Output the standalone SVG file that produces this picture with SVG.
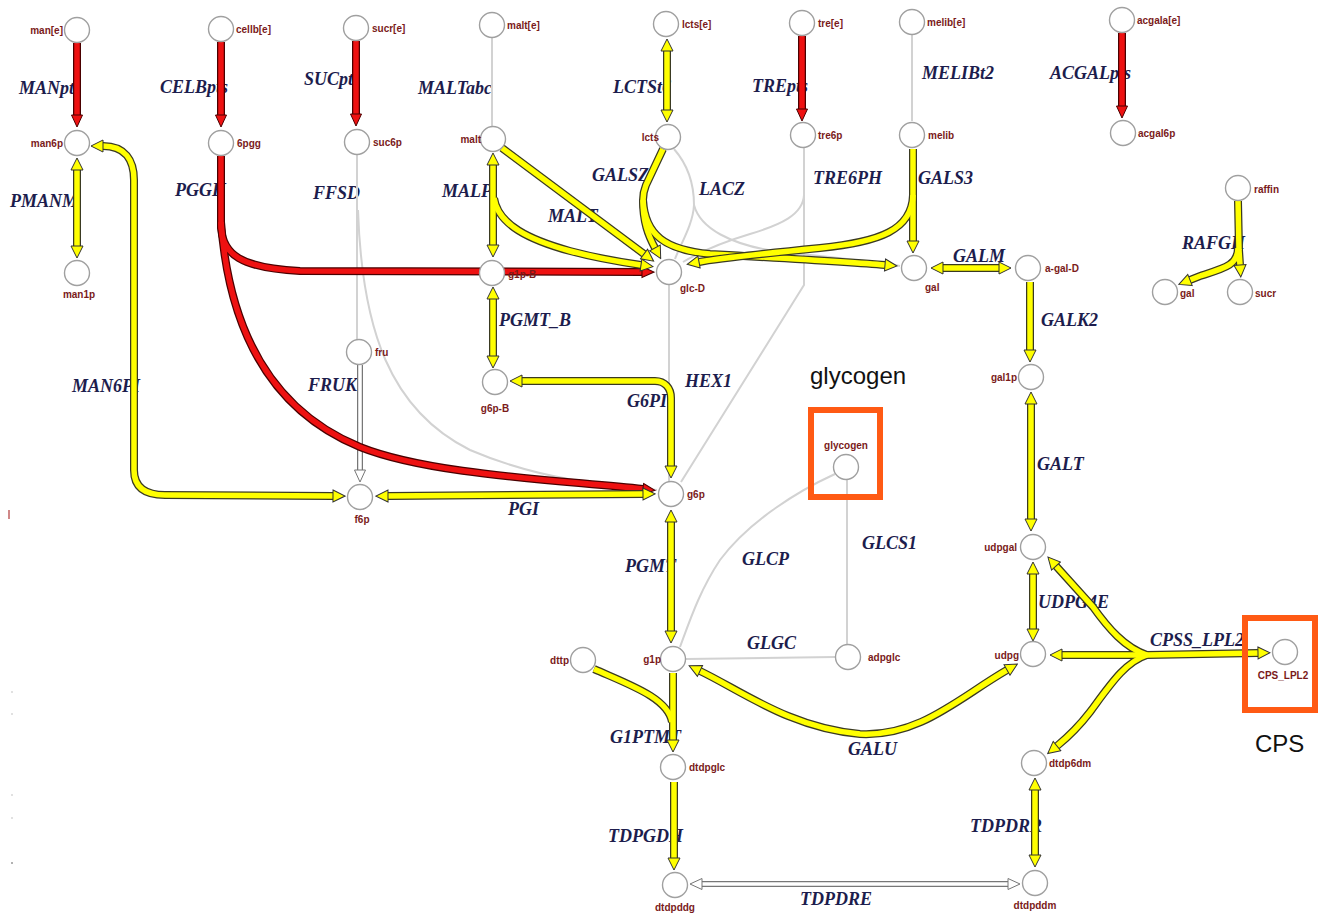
<svg xmlns="http://www.w3.org/2000/svg" width="1319" height="915" viewBox="0 0 1319 915">
<style>
.rl{font-family:"Liberation Serif","Times New Roman",serif;font-weight:bold;font-style:italic;font-size:18px;fill:#1d1d4d}
.nl{font-family:"Liberation Sans",Arial,sans-serif;font-weight:bold;font-size:10px;fill:#7a1a1a}
.nd{fill:#fff;stroke:#a0a0a0;stroke-width:1.4}
.big{font-family:"Liberation Sans",Arial,sans-serif;font-size:24px;fill:#111}
.box{fill:none;stroke:#ff5a14;stroke-width:6}
.g{fill:none;stroke:#d2d2d2;stroke-width:2}
.y .o{fill:none;stroke:#3a3a22;stroke-width:8}
.y .i{fill:none;stroke:#ffff00;stroke-width:5.5}
.r .o{fill:none;stroke:#4a0000;stroke-width:8}
.r .i{fill:none;stroke:#ee1111;stroke-width:5.5}
.h .o{fill:none;stroke:#777;stroke-width:6}
.h .i{fill:none;stroke:#fff;stroke-width:3.5}
.y .e{marker-end:url(#ay)}
.y .b{marker-start:url(#ay);marker-end:url(#ay)}
.r .e{marker-end:url(#ar)}
.h .e{marker-end:url(#ah)}
.h .b{marker-start:url(#ah);marker-end:url(#ah)}
</style>
<defs>
<marker id="ay" viewBox="-1 -1 14 14" refX="0" refY="6" markerWidth="14" markerHeight="14" markerUnits="userSpaceOnUse" orient="auto-start-reverse"><path d="M0,0 L12,6 L0,12 Z" fill="#ffff00" stroke="#333" stroke-width="1"/></marker>
<marker id="ar" viewBox="-1 -1 14 14" refX="0" refY="6" markerWidth="14" markerHeight="14" markerUnits="userSpaceOnUse" orient="auto-start-reverse"><path d="M0,0.5 L12,6 L0,11.5 Z" fill="#ee1111" stroke="#4a0000" stroke-width="1"/></marker>
<marker id="ah" viewBox="-1 -1 14 14" refX="0" refY="6" markerWidth="14" markerHeight="14" markerUnits="userSpaceOnUse" orient="auto-start-reverse"><path d="M0,0.5 L12,6 L0,11.5 Z" fill="#fff" stroke="#777" stroke-width="1"/></marker>
</defs>
<rect width="1319" height="915" fill="#fff"/>

<g id="reaction-labels">
<text class="rl" x="19" y="94">MANpts</text>
<text class="rl" x="160" y="93">CELBpts</text>
<text class="rl" x="304" y="85">SUCpts</text>
<text class="rl" x="10" y="207">PMANM</text>
<text class="rl" x="175" y="196">PGGH</text>
<text class="rl" x="313" y="199">FFSD</text>
<text class="rl" x="418" y="94">MALTabc</text>
<text class="rl" x="613" y="93">LCTSt6</text>
<text class="rl" x="752" y="92">TREpts</text>
<text class="rl" x="442" y="197">MALP</text>
<text class="rl" x="548" y="222">MALT</text>
<text class="rl" x="592" y="181">GALSZ</text>
<text class="rl" x="699" y="195">LACZ</text>
<text class="rl" x="813" y="184">TRE6PH</text>
<text class="rl" x="922" y="79">MELIBt2</text>
<text class="rl" x="1050" y="79">ACGALpts</text>
<text class="rl" x="918" y="184">GALS3</text>
<text class="rl" x="953" y="262">GALM</text>
<text class="rl" x="1182" y="249">RAFGH</text>
<text class="rl" x="72" y="392">MAN6PI</text>
<text class="rl" x="308" y="391">FRUK</text>
<text class="rl" x="499" y="326">PGMT_B</text>
<text class="rl" x="685" y="387">HEX1</text>
<text class="rl" x="627" y="407">G6PI</text>
<text class="rl" x="508" y="515">PGI</text>
<text class="rl" x="625" y="572">PGMT</text>
<text class="rl" x="742" y="565">GLCP</text>
<text class="rl" x="862" y="549">GLCS1</text>
<text class="rl" x="1041" y="326">GALK2</text>
<text class="rl" x="1037" y="470">GALT</text>
<text class="rl" x="1038" y="608">UDPG4E</text>
<text class="rl" x="747" y="649">GLGC</text>
<text class="rl" x="610" y="743">G1PTMT</text>
<text class="rl" x="848" y="755">GALU</text>
<text class="rl" x="608" y="842">TDPGDH</text>
<text class="rl" x="800" y="905">TDPDRE</text>
<text class="rl" x="1150" y="646">CPSS_LPL2</text>
<text class="rl" x="970" y="832">TDPDRR</text>
</g>

<g id="connectors">
<!-- gray thin reactions -->
<g id="c-MALTabc"><path class="g" d="M492,38 V126"/></g>
<g id="c-MELIBt2"><path class="g" d="M912,35 V121"/></g>
<g id="c-FFSD"><path class="g" d="M357,155 V339"/><path class="g" d="M358,210 C362,330 390,410 470,450 C540,480 610,486 657,490"/></g>
<g id="c-LACZ"><path class="g" d="M674,149 C688,165 694,185 694,205 C693,225 680,245 675,259"/><path class="g" d="M694,205 C700,228 730,245 780,252 C840,258 880,262 900,266"/></g>
<g id="c-TRE6PH"><path class="g" d="M804,148 V285 L681,482"/><path class="g" d="M804,195 C803,215 780,225 750,234 C720,243 700,252 683,262"/></g>
<g id="c-HEX1"><path class="g" d="M669,285 V481"/></g>
<g id="c-GLCP"><path class="g" d="M835,474 C800,490 750,520 720,560 C700,590 690,620 680,647"/></g>
<g id="c-GLCS1"><path class="g" d="M847,480 V644"/></g>
<g id="c-GLGC"><path class="g" d="M686,659 L835,657"/></g>

<!-- hollow gray -->
<g id="c-FRUK" class="h"><path class="o" d="M360,365 V470"/><path class="i e" d="M360,365 V470"/></g>
<g id="c-TDPDRE" class="h"><path class="o" d="M702,884 L1008,884"/><path class="i b" d="M702,884 L1008,884"/></g>

<!-- red PTS -->
<g id="c-MANpts" class="r"><path class="o" d="M77,43 V115"/><path class="i e" d="M77,43 V115"/></g>
<g id="c-CELBpts" class="r"><path class="o" d="M221,42 V115"/><path class="i e" d="M221,42 V115"/></g>
<g id="c-SUCpts" class="r"><path class="o" d="M356,41 V114"/><path class="i e" d="M356,41 V114"/></g>
<g id="c-TREpts" class="r"><path class="o" d="M802,36 V109"/><path class="i e" d="M802,36 V109"/></g>
<g id="c-ACGALpts" class="r"><path class="o" d="M1122,33 V106"/><path class="i e" d="M1122,33 V106"/></g>
<g id="c-PGGH" class="r">
<path class="o" d="M221,156 L221,228 C223,254 240,268 300,271 L642,272"/>
<path class="o" d="M221,222 C229,330 270,410 360,447 C430,475 560,480 643,489"/>
<path class="i e" d="M221,156 L221,228 C223,254 240,268 300,271 L642,272"/>
<path class="i e" d="M221,222 C229,330 270,410 360,447 C430,475 560,480 643,489"/>
</g>

<!-- yellow -->
<g id="c-PMANM" class="y"><path class="o" d="M77,170 V246"/><path class="i b" d="M77,170 V246"/></g>
<g id="c-MAN6PI" class="y"><path class="o" d="M103,146 C125,146 134,160 134,180 L134,470 C134,488 146,495 165,495 L333,496"/><path class="i b" d="M103,146 C125,146 134,160 134,180 L134,470 C134,488 146,495 165,495 L333,496"/></g>
<g id="c-MALP" class="y">
<path class="o" d="M493,165 V245"/><path class="o" d="M494,198 C498,225 530,240 570,251 C600,259 620,262 641,265"/>
<path class="i b" d="M493,165 V245"/><path class="i e" d="M494,198 C498,225 530,240 570,251 C600,259 620,262 641,265"/>
</g>
<g id="c-MALT" class="y"><path class="o" d="M502,148 L644,254"/><path class="i e" d="M502,148 L644,254"/></g>
<g id="c-LCTSt6" class="y"><path class="o" d="M667,51 V110"/><path class="i b" d="M667,51 V110"/></g>
<g id="c-GALSZ" class="y">
<path class="o" d="M663,149 L646,185 C644,190 643,195 643,200 C643,222 648,235 655,248"/>
<path class="o" d="M643,200 C645,235 665,250 710,254 C780,258 850,262 885,265"/>
<path class="i e" d="M663,149 L646,185 C644,190 643,195 643,200 C643,222 648,235 655,248"/>
<path class="i e" d="M643,200 C645,235 665,250 710,254 C780,258 850,262 885,265"/>
</g>
<g id="c-GALS3" class="y">
<path class="o" d="M913,149 V241"/>
<path class="o" d="M913,195 C912,230 880,242 820,248 C760,254 720,258 699,262"/>
<path class="i e" d="M913,149 V241"/>
<path class="i e" d="M913,195 C912,230 880,242 820,248 C760,254 720,258 699,262"/>
</g>
<g id="c-GALM" class="y"><path class="o" d="M943,268 L999,268"/><path class="i b" d="M943,268 L999,268"/></g>
<g id="c-GALK2" class="y"><path class="o" d="M1030,282 V350"/><path class="i e" d="M1030,282 V350"/></g>
<g id="c-GALT" class="y"><path class="o" d="M1031,404 V519"/><path class="i b" d="M1031,404 V519"/></g>
<g id="c-UDPG4E" class="y"><path class="o" d="M1033,574 V629"/><path class="i b" d="M1033,574 V629"/></g>
<g id="c-CPSS_LPL2" class="y">
<path class="o" d="M1147,655 L1062,655"/>
<path class="o" d="M1147,655 L1258,653"/>
<path class="o" d="M1147,655 C1125,648 1108,628 1093,607 L1056,566"/>
<path class="o" d="M1147,655 C1125,662 1110,685 1090,712 C1080,725 1068,737 1057,746"/>
<path class="i e" d="M1147,655 L1062,655"/>
<path class="i e" d="M1147,655 L1258,653"/>
<path class="i e" d="M1147,655 C1125,648 1108,628 1093,607 L1056,566"/>
<path class="i e" d="M1147,655 C1125,662 1110,685 1090,712 C1080,725 1068,737 1057,746"/>
</g>
<g id="c-PGMT_B" class="y"><path class="o" d="M493,299 V356"/><path class="i b" d="M493,299 V356"/></g>
<g id="c-G6PI" class="y"><path class="o" d="M522,381 L655,381 C665,381 671,388 671,398 L671,466"/><path class="i b" d="M522,381 L655,381 C665,381 671,388 671,398 L671,466"/></g>
<g id="c-PGI" class="y"><path class="o" d="M388,496 L643,494"/><path class="i b" d="M388,496 L643,494"/></g>
<g id="c-PGMT" class="y"><path class="o" d="M671,522 V631"/><path class="i b" d="M671,522 V631"/></g>
<g id="c-GALU" class="y"><path class="o" d="M700,671 C740,690 790,728 860,734 C920,737 960,697 1007,670"/><path class="i b" d="M700,671 C740,690 790,728 860,734 C920,737 960,697 1007,670"/></g>
<g id="c-G1PTMT" class="y">
<path class="o" d="M673,673 V740"/><path class="o" d="M594,669 C630,685 668,698 672,722"/>
<path class="i e" d="M673,673 V740"/><path class="i" d="M594,669 C630,685 668,698 672,722"/>
</g>
<g id="c-TDPGDH" class="y"><path class="o" d="M674,782 V858"/><path class="i e" d="M674,782 V858"/></g>
<g id="c-TDPDRR" class="y"><path class="o" d="M1035,790 V855"/><path class="i b" d="M1035,790 V855"/></g>
<g id="c-RAFGH" class="y">
<path class="o" d="M1238,201 L1239,250 L1240,265"/>
<path class="o" d="M1238,248 C1238,265 1225,268 1200,276 L1190,280"/>
<path class="i e" d="M1238,201 L1239,250 L1240,265"/>
<path class="i e" d="M1238,248 C1238,265 1225,268 1200,276 L1190,280"/>
</g>
</g>

<g id="nodes">
<g id="n-man_e"><circle class="nd" cx="77" cy="30" r="12.5"/><text class="nl" x="63" y="34" text-anchor="end">man[e]</text></g>
<g id="n-man6p"><circle class="nd" cx="77" cy="143" r="12.5"/><text class="nl" x="63" y="147" text-anchor="end">man6p</text></g>
<g id="n-man1p"><circle class="nd" cx="77" cy="273" r="12.5"/><text class="nl" x="79" y="298" text-anchor="middle">man1p</text></g>
<g id="n-cellb_e"><circle class="nd" cx="221" cy="29" r="12.5"/><text class="nl" x="236" y="33">cellb[e]</text></g>
<g id="n-6pgg"><circle class="nd" cx="221" cy="143" r="12.5"/><text class="nl" x="237" y="147">6pgg</text></g>
<g id="n-sucr_e"><circle class="nd" cx="356" cy="28" r="12.5"/><text class="nl" x="372" y="32">sucr[e]</text></g>
<g id="n-suc6p"><circle class="nd" cx="357" cy="142" r="12.5"/><text class="nl" x="373" y="146">suc6p</text></g>
<g id="n-malt_e"><circle class="nd" cx="492" cy="25" r="12.5"/><text class="nl" x="507" y="29">malt[e]</text></g>
<g id="n-malt"><circle class="nd" cx="493" cy="139" r="12.5"/><text class="nl" x="481" y="143" text-anchor="end">malt</text></g>
<g id="n-lcts_e"><circle class="nd" cx="666" cy="24" r="12.5"/><text class="nl" x="682" y="28">lcts[e]</text></g>
<g id="n-lcts"><circle class="nd" cx="668" cy="137" r="12.5"/><text class="nl" x="659" y="141" text-anchor="end">lcts</text></g>
<g id="n-tre_e"><circle class="nd" cx="802" cy="23" r="12.5"/><text class="nl" x="818" y="27">tre[e]</text></g>
<g id="n-tre6p"><circle class="nd" cx="803" cy="135" r="12.5"/><text class="nl" x="818" y="139">tre6p</text></g>
<g id="n-melib_e"><circle class="nd" cx="912" cy="22" r="12.5"/><text class="nl" x="927" y="26">melib[e]</text></g>
<g id="n-melib"><circle class="nd" cx="912" cy="135" r="12.5"/><text class="nl" x="928" y="139">melib</text></g>
<g id="n-acgala_e"><circle class="nd" cx="1122" cy="20" r="12.5"/><text class="nl" x="1137" y="24">acgala[e]</text></g>
<g id="n-acgal6p"><circle class="nd" cx="1123" cy="133" r="12.5"/><text class="nl" x="1138" y="137">acgal6p</text></g>
<g id="n-raffin"><circle class="nd" cx="1238" cy="188" r="12.5"/><text class="nl" x="1254" y="193">raffin</text></g>
<g id="n-gal_2"><circle class="nd" cx="1165" cy="292" r="12.5"/><text class="nl" x="1180" y="297">gal</text></g>
<g id="n-sucr"><circle class="nd" cx="1240" cy="292" r="12.5"/><text class="nl" x="1255" y="297">sucr</text></g>
<g id="n-g1p_B"><circle class="nd" cx="492" cy="273" r="12.5"/><text class="nl" x="508" y="278">g1p-B</text></g>
<g id="n-glc_D"><circle class="nd" cx="669" cy="272" r="12.5"/><text class="nl" x="680" y="292">glc-D</text></g>
<g id="n-gal"><circle class="nd" cx="914" cy="268" r="12.5"/><text class="nl" x="925" y="291">gal</text></g>
<g id="n-a_gal_D"><circle class="nd" cx="1028" cy="268" r="12.5"/><text class="nl" x="1045" y="272">a-gal-D</text></g>
<g id="n-fru"><circle class="nd" cx="359" cy="352" r="12.5"/><text class="nl" x="375" y="356">fru</text></g>
<g id="n-g6p_B"><circle class="nd" cx="495" cy="382" r="12.5"/><text class="nl" x="495" y="412" text-anchor="middle">g6p-B</text></g>
<g id="n-f6p"><circle class="nd" cx="360" cy="497" r="12.5"/><text class="nl" x="362" y="523" text-anchor="middle">f6p</text></g>
<g id="n-g6p"><circle class="nd" cx="671" cy="494" r="12.5"/><text class="nl" x="687" y="498">g6p</text></g>
<g id="n-glycogen"><circle class="nd" cx="846" cy="467" r="12.5"/><text class="nl" x="846" y="449" text-anchor="middle">glycogen</text></g>
<g id="n-gal1p"><circle class="nd" cx="1031" cy="377" r="12.5"/><text class="nl" x="1017" y="381" text-anchor="end">gal1p</text></g>
<g id="n-udpgal"><circle class="nd" cx="1033" cy="547" r="12.5"/><text class="nl" x="1017" y="551" text-anchor="end">udpgal</text></g>
<g id="n-udpg"><circle class="nd" cx="1033" cy="654" r="12.5"/><text class="nl" x="1019" y="659" text-anchor="end">udpg</text></g>
<g id="n-CPS_LPL2"><circle class="nd" cx="1285" cy="652" r="12.5"/><text class="nl" x="1283" y="679" text-anchor="middle">CPS_LPL2</text></g>
<g id="n-dttp"><circle class="nd" cx="583" cy="660" r="12.5"/><text class="nl" x="569" y="664" text-anchor="end">dttp</text></g>
<g id="n-g1p"><circle class="nd" cx="673" cy="659" r="12.5"/><text class="nl" x="661" y="663" text-anchor="end">g1p</text></g>
<g id="n-adpglc"><circle class="nd" cx="848" cy="657" r="12.5"/><text class="nl" x="868" y="661">adpglc</text></g>
<g id="n-dtdpglc"><circle class="nd" cx="673" cy="767" r="12.5"/><text class="nl" x="689" y="771">dtdpglc</text></g>
<g id="n-dtdp6dm"><circle class="nd" cx="1034" cy="763" r="12.5"/><text class="nl" x="1049" y="767">dtdp6dm</text></g>
<g id="n-dtdpddg"><circle class="nd" cx="675" cy="885" r="12.5"/><text class="nl" x="675" y="911" text-anchor="middle">dtdpddg</text></g>
<g id="n-dtdpddm"><circle class="nd" cx="1035" cy="883" r="12.5"/><text class="nl" x="1035" y="909" text-anchor="middle">dtdpddm</text></g>
</g>

<g id="highlights">
<rect class="box" x="811" y="410" width="69" height="87"/>
<text class="big" x="810" y="384">glycogen</text>
<rect class="box" x="1245" y="618" width="70" height="92"/>
<text class="big" x="1255" y="752">CPS</text>
</g>

<g id="margin-marks">
<line x1="9" y1="510" x2="9" y2="519" stroke="#c06060" stroke-width="1.5"/>
<circle cx="12" cy="692" r="0.8" fill="#bbb"/>
<circle cx="12" cy="714" r="0.8" fill="#bbb"/>
<circle cx="12" cy="795" r="0.8" fill="#bbb"/>
<circle cx="12" cy="818" r="0.8" fill="#bbb"/>
<circle cx="12" cy="863" r="1" fill="#999"/>
</g>
</svg>
